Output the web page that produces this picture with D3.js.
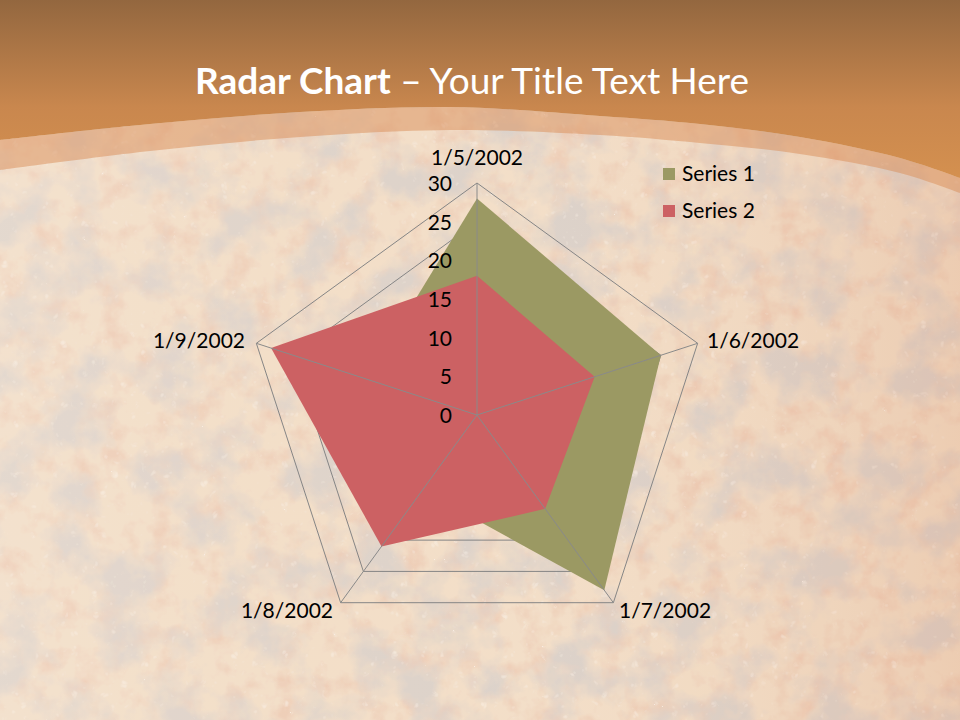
<!DOCTYPE html>
<html>
<head>
<meta charset="utf-8">
<script src="https://cdn.jsdelivr.net/npm/d3@7"></script>
<style>
  html, body { margin: 0; padding: 0; background: #f0d6ba; }
  svg { display: block; }
</style>
</head>
<body>
<script>
// ---- Data ----
const categories = ["1/5/2002", "1/6/2002", "1/7/2002", "1/8/2002", "1/9/2002"];
const series1 = [28, 25, 28, 12, 15];
const series2 = [18, 16, 15, 21, 28];
const seriesNames = ["Series 1", "Series 2"];
const tickValues = [0, 5, 10, 15, 20, 25, 30];
const titleBold = "Radar Chart";
const titleRest = " \u2013 Your Title Text Here";

// ---- Layout ----
const W = 960, H = 720;
const cx = 477, cy = 415, R = 232;
const colors = ["#9b9963", "#cc6163"];
const font = "Lato, 'Open Sans', sans-serif";

const svg = d3.select("body").append("svg").attr("width", W).attr("height", H);
const defs = svg.append("defs");

// background gradients / texture
const topGrad = defs.append("linearGradient").attr("id", "topGrad")
  .attr("x1", 0).attr("y1", 0).attr("x2", 0).attr("y2", 1);
topGrad.append("stop").attr("offset", "0%").attr("stop-color", "#93673f");
topGrad.append("stop").attr("offset", "60%").attr("stop-color", "#c9874e");
topGrad.append("stop").attr("offset", "100%").attr("stop-color", "#d4904f");

const tint = defs.append("linearGradient").attr("id", "tint")
  .attr("x1", 0).attr("y1", 0).attr("x2", 1).attr("y2", 0);
tint.append("stop").attr("offset", "0%").attr("stop-color", "#f6e6d6").attr("stop-opacity", 0.3);
tint.append("stop").attr("offset", "55%").attr("stop-color", "#f0d2b6").attr("stop-opacity", 0.05);
tint.append("stop").attr("offset", "100%").attr("stop-color", "#d4855a").attr("stop-opacity", 0.25);

const f = defs.append("filter").attr("id", "stone")
  .attr("x", 0).attr("y", 0).attr("width", "100%").attr("height", "100%")
  .attr("filterUnits", "userSpaceOnUse");
f.append("feFlood").attr("flood-color", "#f2dcc4").attr("result", "base");
f.append("feTurbulence").attr("type", "fractalNoise").attr("baseFrequency", "0.02")
  .attr("numOctaves", 5).attr("seed", 11).attr("result", "n1");
f.append("feColorMatrix").attr("in", "n1").attr("type", "matrix")
  .attr("values", "0 0 0 0 0.68  0 0 0 0 0.61  0 0 0 0 0.57  3.2 0 0 0 -1.4").attr("result", "dark");
f.append("feTurbulence").attr("type", "fractalNoise").attr("baseFrequency", "0.04")
  .attr("numOctaves", 4).attr("seed", 5).attr("result", "n2");
f.append("feColorMatrix").attr("in", "n2").attr("type", "matrix")
  .attr("values", "0 0 0 0 0.84  0 0 0 0 0.56  0 0 0 0 0.42  0 2.8 0 0 -1.3").attr("result", "rust");
f.append("feTurbulence").attr("type", "turbulence").attr("baseFrequency", "0.1")
  .attr("numOctaves", 2).attr("seed", 3).attr("result", "n3");
f.append("feColorMatrix").attr("in", "n3").attr("type", "matrix")
  .attr("values", "0 0 0 0 0.98  0 0 0 0 0.92  0 0 0 0 0.86  0 0 1.6 0 -0.8").attr("result", "speck");
const fm = f.append("feMerge");
fm.append("feMergeNode").attr("in", "base");
fm.append("feMergeNode").attr("in", "rust");
fm.append("feMergeNode").attr("in", "dark");
fm.append("feMergeNode").attr("in", "speck");

// stone area
svg.append("rect").attr("width", W).attr("height", H).attr("filter", "url(#stone)");
svg.append("rect").attr("width", W).attr("height", H).attr("fill", "url(#tint)");
svg.append("rect").attr("width", W).attr("height", H).attr("fill", "#fbefe2").attr("opacity", 0.15);

// top band curves
const outerEdge = [[0,140],[150,124],[300,112],[450,107],[600,116],[700,124],[800,137],[900,158],[960,178]];
const innerEdge = [[0,170],[150,151],[300,137],[450,130],[600,135],[700,143],[800,154],[900,173],[960,193]];
// band (translucent orange)
const bandArea = d3.area().curve(d3.curveCatmullRom)
  .x(d => d[0]).y0(d => d[1]).y1((d, i) => innerEdge[i][1]);
svg.append("path").attr("d", bandArea(outerEdge)).attr("fill", "#d98e58").attr("opacity", 0.5);
// orange header
const headArea = d3.area().curve(d3.curveCatmullRom)
  .x(d => d[0]).y0(0).y1(d => d[1]);
svg.append("path").attr("d", headArea(outerEdge)).attr("fill", "url(#topGrad)");

// title
const title = svg.append("text")
  .attr("x", 472).attr("y", 94)
  .attr("text-anchor", "middle")
  .attr("fill", "#ffffff")
  .style("font-family", font)
  .style("font-size", "37px");
title.append("tspan").attr("font-weight", "bold").text(titleBold);
title.append("tspan").text(titleRest);

// ---- Radar ----
const r = d3.scaleLinear().domain([0, 30]).range([0, R]);
const angle = d3.scaleLinear().domain([0, categories.length]).range([0, 2 * Math.PI]);
const pt = (i, v) => [cx + r(v) * Math.sin(angle(i)), cy - r(v) * Math.cos(angle(i))];

const g = svg.append("g");
// rings
const ringLine = d3.line().curve(d3.curveLinearClosed);
g.selectAll("path.ring").data(tickValues.filter(v => v > 0)).join("path")
  .attr("class", "ring")
  .attr("d", v => ringLine(categories.map((c, i) => pt(i, v))))
  .attr("fill", "none").attr("stroke", "#858585").attr("stroke-width", 1);

// series fills
const radial = d3.lineRadial().curve(d3.curveLinearClosed)
  .angle((d, i) => angle(i)).radius(d => r(d));
[series1, series2].forEach((s, k) => {
  g.append("path")
    .attr("transform", `translate(${cx},${cy})`)
    .attr("d", radial(s))
    .attr("fill", colors[k]);
});

// spokes
g.selectAll("line.spoke").data(categories).join("line")
  .attr("class", "spoke")
  .attr("x1", cx).attr("y1", cy)
  .attr("x2", (d, i) => pt(i, 30)[0]).attr("y2", (d, i) => pt(i, 30)[1])
  .attr("stroke", "#8a8a8a").attr("stroke-width", 1);

// tick labels
g.selectAll("text.tick").data(tickValues).join("text")
  .attr("class", "tick")
  .attr("x", cx - 25).attr("y", v => cy - r(v) + 8)
  .attr("text-anchor", "end")
  .style("font-family", font).style("font-size", "21px")
  .attr("fill", "#000").text(v => v);

// category labels
const catPos = [
  { x: 477, y: 165, a: "middle" },
  { x: 707, y: 348, a: "start" },
  { x: 619, y: 618, a: "start" },
  { x: 333, y: 618, a: "end" },
  { x: 245, y: 348, a: "end" }
];
g.selectAll("text.cat").data(categories).join("text")
  .attr("class", "cat")
  .attr("x", (d, i) => catPos[i].x).attr("y", (d, i) => catPos[i].y)
  .attr("text-anchor", (d, i) => catPos[i].a)
  .style("font-family", font).style("font-size", "21px")
  .attr("fill", "#000").text(d => d);

// legend
const leg = svg.append("g");
seriesNames.forEach((n, k) => {
  leg.append("rect").attr("x", 663).attr("y", 168 + k * 37).attr("width", 12).attr("height", 12)
    .attr("fill", colors[k]);
  leg.append("text").attr("x", 682).attr("y", 181 + k * 37)
    .style("font-family", font).style("font-size", "21px")
    .attr("fill", "#000").text(n);
});
</script>
</body>
</html>
